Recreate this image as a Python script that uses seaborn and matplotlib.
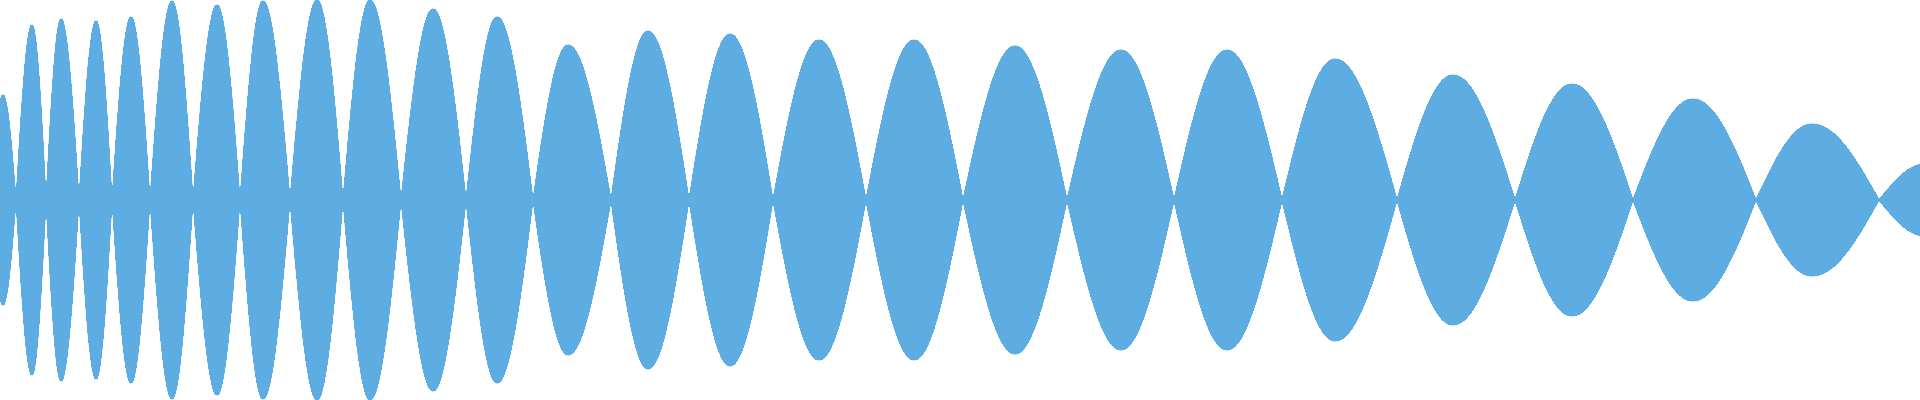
import numpy as np
import pandas as pd
import seaborn as sns
import matplotlib
matplotlib.use("Agg")
import matplotlib.pyplot as plt

# zero crossings of the waveform (x position, one more than lobes)
crossings = [-10, 16, 46, 79, 112, 150, 193, 240, 290, 343, 401, 466, 533,
             611, 689, 773, 866, 963, 1067, 1174, 1282, 1397, 1515, 1633,
             1756, 1879, 1975]
# where each lobe peaks and how high (half height of the band)
peak_pos = [3, 32, 61, 96, 131, 172, 217, 263, 317, 370, 433, 497, 568,
            648, 730, 819, 914, 1015, 1121, 1227, 1335, 1453, 1572, 1693,
            1812, 1925]
peak_amp = [105, 175, 181, 179, 183, 199, 195, 199, 200, 200, 191, 183, 155,
            169, 166, 160, 160, 154, 150, 150, 141, 125, 116, 101, 76, 36]

wave_color = "#5DADE2"

# build the envelope of each lobe: quarter sine up to the peak, quarter cosine down
xs, ys = [], []
for i, (p, a) in enumerate(zip(peak_pos, peak_amp)):
    s, e = crossings[i], crossings[i + 1]
    up = np.linspace(s, p, 60, endpoint=False)
    down = np.linspace(p, e, 60, endpoint=False)
    xs.append(up)
    ys.append(a * np.sin(np.pi / 2 * (up - s) / (p - s)))
    xs.append(down)
    ys.append(a * np.cos(np.pi / 2 * (down - p) / (e - p)))
xs.append(np.array([crossings[-1]]))
ys.append(np.array([0.0]))

df = pd.DataFrame({"x": np.concatenate(xs), "amp": np.concatenate(ys)})
df["neg"] = -df["amp"]

sns.set_style("white")
fig = plt.figure(figsize=(19.2, 4), dpi=100)
ax = fig.add_axes([0, 0, 1, 1])

ax.fill_between(df["x"], df["neg"], df["amp"], color=wave_color, linewidth=0,
                antialiased=False)
sns.lineplot(data=df, x="x", y="amp", estimator=None, sort=False, ax=ax,
             color=wave_color, linewidth=0.6)
sns.lineplot(data=df, x="x", y="neg", estimator=None, sort=False, ax=ax,
             color=wave_color, linewidth=0.6)

ax.set_xlim(0, 1920)
ax.set_ylim(-200, 200)
ax.axis("off")

fig.savefig("out.png", dpi=100, facecolor="white")
plt.close(fig)
